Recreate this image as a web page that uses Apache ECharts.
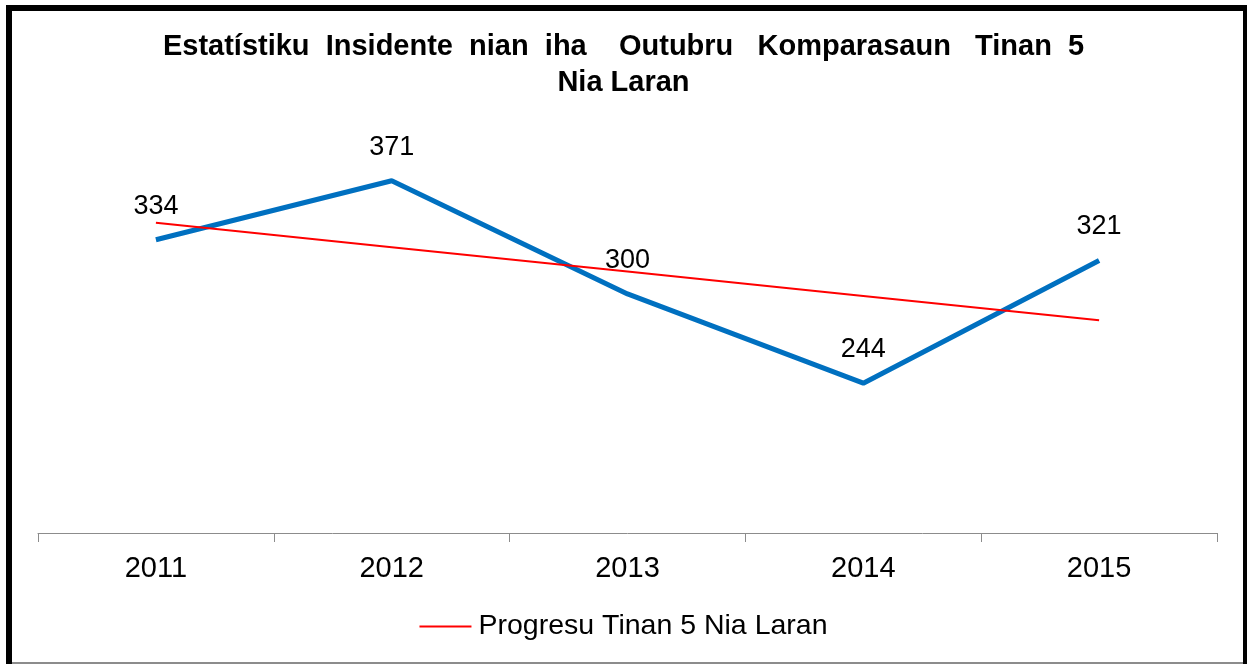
<!DOCTYPE html>
<html>
<head>
<meta charset="utf-8">
<title>Estatístiku Insidente</title>
<script src="https://cdn.jsdelivr.net/npm/echarts@6/dist/echarts.min.js"></script>
<style>
	html, body { margin: 0; padding: 0; background: #fff; }
	#chart1 { width: 1247px; height: 664px; }
</style>
</head>
<body>
<div id="chart1"></div>
<script>
//数据
var years = ['2011', '2012', '2013', '2014', '2015'];
var insidente = [334, 371, 300, 244, 321];
//趋势线读数
var progresu = [344.6, 329.3, 314, 298.7, 283.4];

//标题 (原图标题里词间空格较宽)
var titleText = 'Estatístiku  Insidente  nian  iha    Outubru   Komparasaun   Tinan  5\nNia Laran';
var trendName = 'Progresu Tinan 5 Nia Laran';

(function() {
	var font = 'Liberation Sans, Arial, sans-serif';
	var myChart = echarts.init(document.getElementById('chart1'));
	var option = {
		backgroundColor: '#fff',
		animation: false,
		title: {
			text: titleText,
			left: 'center',
			top: 29,
			padding: 0,
			textStyle: {
				fontFamily: font,
				fontSize: 29,
				fontWeight: 'bold',
				color: '#000',
				lineHeight: 36
			}
		},
		legend: {
			data: [{ name: trendName, icon: 'rect' }],
			bottom: 18,
			left: 'center',
			itemWidth: 52,
			itemHeight: 2,
			itemGap: 10,
			textStyle: {
				fontFamily: font,
				fontSize: 28.5,
				color: '#000',
				padding: [0, 0, 0, 2]
			}
		},
		grid: {
			left: 38,
			right: 30,
			top: 134.5,
			bottom: 131
		},
		xAxis: {
			type: 'category',
			data: years,
			boundaryGap: true,
			axisLine: { lineStyle: { color: '#8c8c8c', width: 1 } },
			axisTick: { show: true, length: 9, lineStyle: { color: '#8c8c8c' } },
			axisLabel: {
				margin: 21,
				fontFamily: font,
				fontSize: 29,
				color: '#000'
			}
		},
		yAxis: {
			type: 'value',
			min: 150,
			max: 400,
			show: false,
			splitLine: { show: false }
		},
		series: [{
			name: 'Insidente',
			type: 'line',
			data: insidente,
			symbol: 'circle',
			symbolSize: 0.01,
			showSymbol: true,
			lineStyle: { color: '#0070c0', width: 5 },
			itemStyle: { color: '#0070c0' },
			label: {
				show: true,
				position: 'top',
				distance: 20,
				fontFamily: font,
				fontSize: 27,
				color: '#000'
			},
			z: 3
		}, {
			name: trendName,
			type: 'line',
			data: progresu,
			symbol: 'none',
			lineStyle: { color: '#ff0000', width: 2 },
			itemStyle: { color: '#ff0000' },
			z: 4
		}],
		//外框
		graphic: [
			{ type: 'rect', shape: { x: 6, y: 5, width: 1241, height: 6 }, style: { fill: '#000' } },
			{ type: 'rect', shape: { x: 6, y: 5, width: 6, height: 659 }, style: { fill: '#000' } },
			{ type: 'rect', shape: { x: 1243, y: 5, width: 4, height: 659 }, style: { fill: '#000' } },
			{ type: 'rect', shape: { x: 12, y: 662, width: 1231, height: 2 }, style: { fill: '#8c8c8c' } }
		]
	};
	myChart.setOption(option);
})();
</script>
</body>
</html>
